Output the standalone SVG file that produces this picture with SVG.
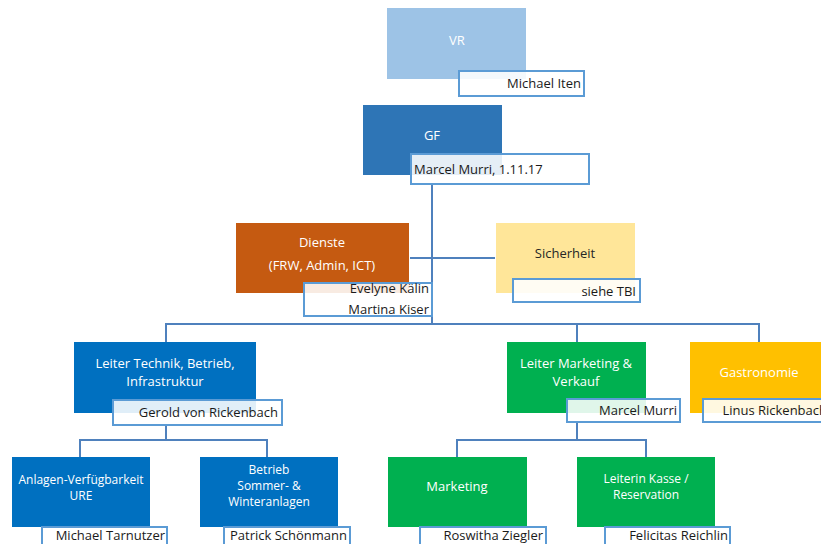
<svg xmlns="http://www.w3.org/2000/svg" width="821" height="544" viewBox="0 0 821 544">
<style>
text{font-family:"Open Sans","Liberation Sans",sans-serif;font-size:13px}
.t{fill:#ffffff;text-anchor:middle}
.s{font-size:12px}
.d{fill:#262626;text-anchor:middle}
.n{fill:#1a1a1a;text-anchor:end}
.nl{fill:#1a1a1a;text-anchor:start}
.lb{fill:#ffffff;fill-opacity:0.88;stroke:#5B9BD5;stroke-width:2}
.c{fill:none;stroke:#4F81BD;stroke-width:2}
</style>
<rect width="821" height="544" fill="#ffffff"/>
<g id="connectors">
<path class="c" d="M432 184 V324"/>
<path class="c" d="M410 258 H495"/>
<path class="c" d="M166 342 V324 H759 V342"/>
<path class="c" d="M577 324 V342"/>
<path class="c" d="M166 425 V440 M80 457 V440 H267 V457"/>
<path class="c" d="M577 422 V440 M457 457 V440 H646 V457"/>
</g>
<g id="vr">
<rect x="387" y="8" width="139" height="71" fill="#9DC3E6"/>
<text class="t" x="457" y="45">VR</text>
<rect class="lb" x="459" y="71" width="125" height="25"/>
<text class="n" x="581" y="88">Michael Iten</text>
</g>
<g id="gf">
<rect x="363" y="105" width="139" height="70" fill="#2E75B6"/>
<text class="t" x="432" y="140">GF</text>
<rect class="lb" x="411" y="154" width="178" height="30"/>
<text class="nl" x="414" y="174">Marcel Murri, 1.11.17</text>
</g>
<g id="dienste">
<rect x="236" y="223" width="173" height="70" fill="#C55A11"/>
<text class="t" x="322" y="247">Dienste</text>
<text class="t" x="322" y="270">(FRW, Admin, ICT)</text>
<rect class="lb" x="304" y="283" width="128" height="33"/>
<text class="n" x="429" y="293">Evelyne Kälin</text>
<text class="n" x="429" y="314">Martina Kiser</text>
</g>
<g id="sicherheit">
<rect x="496" y="223" width="139" height="70" fill="#FFE699"/>
<text class="d" x="565" y="258">Sicherheit</text>
<rect class="lb" x="513" y="279" width="127" height="23"/>
<text class="n" x="636" y="296">siehe TBI</text>
</g>
<g id="technik">
<rect x="74" y="342" width="182" height="71" fill="#0070C0"/>
<text class="t" x="165" y="368">Leiter Technik,  Betrieb,</text>
<text class="t" x="165" y="386">Infrastruktur</text>
<rect class="lb" x="113" y="400" width="169" height="25"/>
<text class="n" x="278" y="417">Gerold von Rickenbach</text>
</g>
<g id="marketing-verkauf">
<rect x="507" y="342" width="139" height="71" fill="#00B050"/>
<text class="t" x="576" y="368">Leiter Marketing &amp;</text>
<text class="t" x="576" y="386">Verkauf</text>
<rect class="lb" x="567" y="399" width="113" height="23"/>
<text class="n" x="677" y="415">Marcel Murri</text>
</g>
<g id="gastronomie">
<rect x="690" y="342" width="140" height="71" fill="#FFC000"/>
<text class="t" x="759" y="377">Gastronomie</text>
<rect class="lb" x="703" y="399" width="130" height="23"/>
<text class="n" x="827" y="415">Linus Rickenbach</text>
</g>
<g id="anlagen">
<rect x="12" y="457" width="138" height="70" fill="#0070C0"/>
<text class="t s" x="81" y="484">Anlagen-Verfügbarkeit</text>
<text class="t s" x="81" y="500">URE</text>
<rect class="lb" x="42" y="527" width="125" height="25"/>
<text class="n" x="165" y="540">Michael Tarnutzer</text>
</g>
<g id="betrieb">
<rect x="200" y="457" width="138" height="70" fill="#0070C0"/>
<text class="t s" x="269" y="474">Betrieb</text>
<text class="t s" x="269" y="490">Sommer- &amp;</text>
<text class="t s" x="269" y="506">Winteranlagen</text>
<rect class="lb" x="224" y="527" width="126" height="25"/>
<text class="n" x="347" y="540">Patrick Schönmann</text>
</g>
<g id="marketing">
<rect x="388" y="457" width="139" height="70" fill="#00B050"/>
<text class="t" x="457" y="491">Marketing</text>
<rect class="lb" x="420" y="527" width="126" height="25"/>
<text class="n" x="543" y="540">Roswitha Ziegler</text>
</g>
<g id="kasse">
<rect x="577" y="457" width="138" height="70" fill="#00B050"/>
<text class="t s" x="646" y="483">Leiterin Kasse /</text>
<text class="t s" x="646" y="499">Reservation</text>
<rect class="lb" x="605" y="527" width="125" height="25"/>
<text class="n" x="728" y="540">Felicitas Reichlin</text>
</g>
</svg>
